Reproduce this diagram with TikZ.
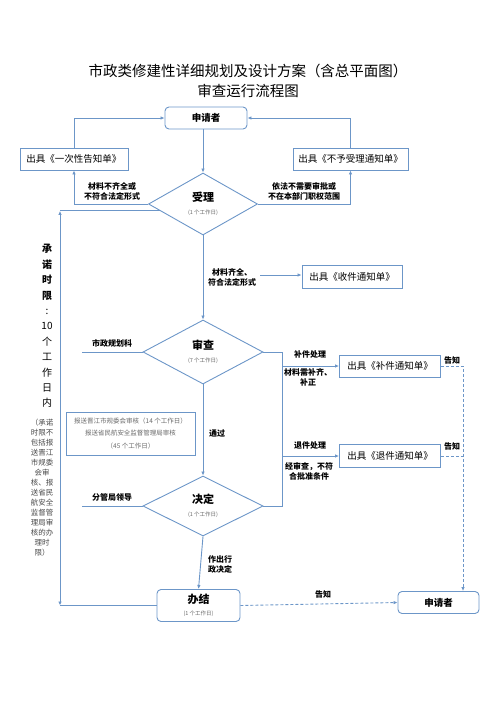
\documentclass[tikz,border=0pt]{standalone}
\usepackage{fontspec}
\setmainfont{Noto Sans CJK SC}
\usetikzlibrary{shapes.geometric,arrows.meta,calc}
\definecolor{lineblue}{RGB}{108,150,200}
\definecolor{daygray}{RGB}{105,105,105}
\newcommand\workday[1]{{\fontsize{5.5}{6.5}\selectfont\mdseries\color{daygray}#1}}
\tikzset{
  flow/.style={draw=lineblue, line width=0.9pt},
  arr/.style={flow, -{Latex[length=4pt,width=3.5pt]}},
  dasharr/.style={arr, dash pattern=on 3pt off 2pt},
  dflow/.style={flow, dash pattern=on 3pt off 2pt},
  rbox/.style={draw=lineblue, line width=0.9pt, rounded corners=4pt, inner sep=0pt, align=center, font=\fontsize{9.5}{11}\selectfont\bfseries},
  sbox/.style={draw=lineblue, line width=0.9pt, minimum height=22pt, inner sep=0pt, font=\fontsize{9.5}{11}\selectfont},
  dmd/.style={diamond, draw=lineblue, line width=0.9pt, inner sep=0pt, align=center},
  lbl/.style={font=\fontsize{8}{10}\selectfont\bfseries, align=center, inner sep=0pt},
}
\begin{document}
\begin{tikzpicture}[x=1pt,y=-1pt]
\useasboundingbox (0,0) rectangle (496,702);
\node[font=\fontsize{14.5}{19.5}\selectfont, align=center] (title) at (248,81) {市政类修建性详细规划及设计方案（含总平面图）\\审查运行流程图};

% top part
\node[rbox, minimum width=82pt, minimum height=22pt] (app) at (206,118) {申请者};
\node[sbox, minimum width=108pt] (yici) at (74,159) {出具《一次性告知单》};
\node[sbox, minimum width=115pt] (buyu) at (350.5,159) {出具《不予受理通知单》};
\node[dmd, minimum width=109pt, minimum height=62pt] (shouli) at (203,204) {{\fontsize{11}{12}\selectfont\bfseries 受理}\\[1pt]\workday{(1 个工作日)}};
\node[lbl] (l1) at (112,191) {材料不齐全或\\不符合法定形式};
\node[lbl] (l2) at (304,191) {依法不需要审批或\\不在本部门职权范围};
\draw[arr](shouli.north |- app.south) -- (shouli.north);
\draw[arr](shouli.west) -| (yici.south);
\draw[arr](shouli.east) -| (buyu.south);
\draw[arr](yici.north) |- (app.west);
\draw[arr](buyu.north) |- (app.east);

% shoujian
\node[sbox, minimum width=100pt, minimum height=23pt] (shoujian) at (352,276.5) {出具《收件通知单》};
\node[lbl] (l3) at (232,277) {材料齐全、\\符合法定形式};
\coordinate (sjstart) at (260,275);
\draw[arr](sjstart) -- (sjstart -| shoujian.west);

% shencha
\node[dmd, minimum width=120pt, minimum height=64pt] (shencha) at (203,352) {{\fontsize{11}{12}\selectfont\bfseries 审查}\\[1pt]\workday{(7 个工作日)}};
\draw[arr](shouli.south) -- (shencha.north);
\node[lbl] (l4) at (112,343) {市政规划科};
\coordinate (sz) at (82,352);
\draw[flow](sz) -- (shencha.west);

\node[sbox, minimum width=101pt, minimum height=22pt] (bujian) at (390,366) {出具《补件通知单》};
\node[sbox, minimum width=101pt, minimum height=23pt] (tuijian) at (390,456) {出具《退件通知单》};
\node[lbl] (l5) at (310,354) {补件处理};
\node[lbl] (l6) at (308,377.5) {材料需补齐、\\补正};
\node[lbl] (l7) at (310,445) {退件处理};
\node[lbl] (l8) at (309,471.5) {经审查，不符\\合批准条件};

% jueding
\node[dmd, minimum width=120pt, minimum height=60pt] (jueding) at (203,506) {{\fontsize{11}{12}\selectfont\bfseries 决定}\\[1pt]\workday{(1 个工作日)}};
\draw[arr](shencha.south) -- (jueding.north);
\node[lbl] (l9) at (217,433) {通过};
\node[draw=lineblue, line width=0.9pt, minimum width=129pt, minimum height=43pt, inner sep=0pt, align=center, font=\fontsize{6.5}{12.5}\selectfont, text=daygray] (baosong) at (130.5,433.5) {报送晋江市规委会审核（14 个工作日）\\报送省民航安全监督管理局审核\\（45 个工作日）};
\node[lbl] (l10) at (112,497) {分管局领导};
\coordinate (fg) at (82,506);
\draw[flow](fg) -- (jueding.west);

\coordinate (rtop) at (282,352);
\coordinate (rbot) at (282,506);
\draw[flow](shencha.east) -- (rtop) -- (rbot) -- (jueding.east);
\draw[arr](rtop |- bujian.west) -- (bujian.west);
\draw[arr](rbot |- tuijian.west) -- (tuijian.west);

% banjie
\node[rbox, minimum width=83pt, minimum height=32pt] (banjie) at (198.5,605.5) {{\fontsize{11}{12}\selectfont 办结}\\[1pt]\workday{(1 个工作日)}};
\node[rbox, minimum width=81pt, minimum height=22pt] (app2) at (438.5,602.5) {申请者};
\draw[arr](jueding.south) -- (banjie.north);
\node[lbl] (l11) at (220,564.5) {作出行\\政决定};
\draw[dasharr](banjie.east) -- (app2.west);
\node[lbl] (l12) at (323,594) {告知};

\coordinate (dcorner) at (bujian.east -| 463,0);
\draw[dasharr](bujian.east) -- (dcorner) -- (dcorner |- app2.north);
\draw[dflow](tuijian.east) -- (tuijian.east -| dcorner);
\node[lbl] (l13) at (452,360) {告知};
\node[lbl] (l14) at (452,446) {告知};

% left line
\coordinate (ledge) at ($(shouli.west)!0.22!(shouli.south)$);
\coordinate (ltop) at (ledge -| 60,0);
\coordinate (lbot) at (banjie.west -| 60,0);
\draw[flow](ledge) -- (ltop);
\draw[flow, {Latex[length=4pt,width=3.5pt]}-{Latex[length=4pt,width=3.5pt]}](ltop) -- (lbot);
\draw[flow](lbot) -- (banjie.west);

\node[align=center, inner sep=0pt, font=\fontsize{10}{15.4}\selectfont] (limit) at (47,326) {\textbf{承}\\\textbf{诺}\\\textbf{时}\\\textbf{限}\\:\\10\\个\\工\\作\\日\\内};
\node[align=center, inner sep=0pt, text=daygray!70!black, font=\fontsize{7.5}{10}\selectfont] (limitnote) at (42,488) {（承诺\\时限不\\包括报\\送晋江\\市规委\\会审\\核、报\\送省民\\航安全\\监督管\\理局审\\核的办\\理时\\限）};

\end{tikzpicture}
\end{document}
